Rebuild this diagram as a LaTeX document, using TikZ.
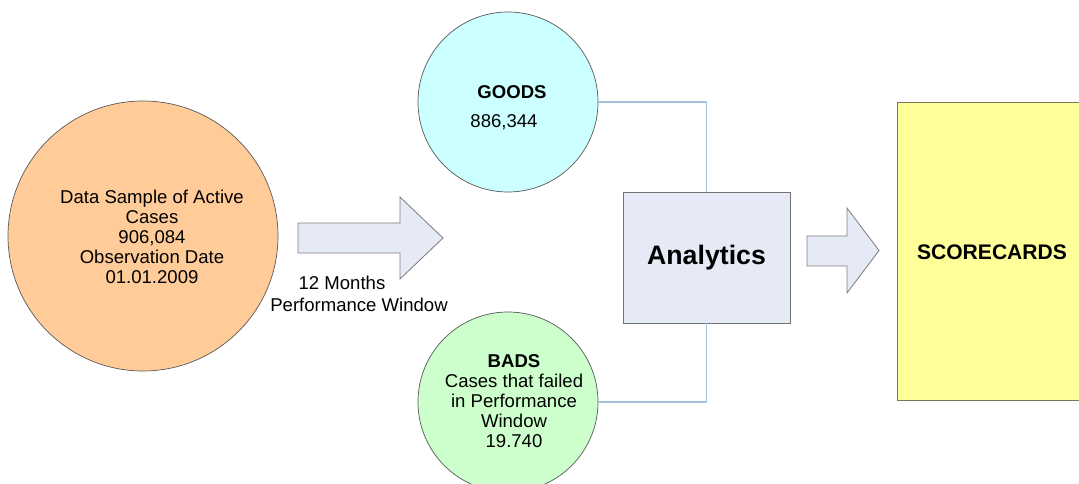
\documentclass[tikz,border=0pt]{standalone}
\usepackage{fontspec}
\setmainfont{Liberation Sans}
\usepackage{tikz}
\usetikzlibrary{positioning}

\definecolor{peach}{HTML}{FFCC99}
\definecolor{paleblue}{HTML}{CCFFFF}
\definecolor{palegreen}{HTML}{CCFFCC}
\definecolor{lavender}{HTML}{E6EAF6}
\definecolor{paleyellow}{HTML}{FFFF99}
\definecolor{linkblue}{HTML}{A7BEDD}
\definecolor{olivegray}{HTML}{77775A}

\tikzset{
  bubble/.style={circle, draw=black!65, line width=0.5pt, inner sep=0pt},
  blockarrow/.style={draw=black!50, fill=lavender, line width=0.6pt, line join=miter},
  link/.style={draw=linkblue, line width=0.8pt},
  txt/.style={font=\fontsize{13.2}{14.2}\selectfont, align=center, inner sep=0pt},
  boldtxt/.style={txt, font=\fontsize{13.2}{14.2}\selectfont\bfseries},
}

\begin{document}
\begin{tikzpicture}
\useasboundingbox (0cm,0cm) rectangle (26.975cm,-12.1cm);

\node[bubble, fill=peach, minimum size=6.75cm] (sample) at (3.575cm,-5.9cm) {};
\node[txt] (sampletext) at (3.8cm,-5.925cm) {Data Sample of Active\\Cases\\906,084\hspace*{1em}\\Observation Date\\01.01.2009};

\draw[blockarrow] (7.45cm,-5.575cm) -- (10cm,-5.575cm) -- (10cm,-4.925cm) -- (11.075cm,-5.95cm) -- (10cm,-6.975cm) -- (10cm,-6.325cm) -- (7.45cm,-6.325cm) -- cycle;
\node[txt] (months) at (8.55cm,-7.075cm) {12 Months};
\node[txt] (window) at (8.975cm,-7.625cm) {Performance Window};

\node[bubble, fill=paleblue, minimum size=4.5cm] (goods) at (12.7cm,-2.55cm) {};
\node[boldtxt] (goodstitle) at (12.8cm,-2.3cm) {GOODS};
\node[txt] (goodscount) at (12.6cm,-3.05cm) {886,344};

\node[bubble, fill=palegreen, minimum size=4.5cm] (bads) at (12.7cm,-10.05cm) {};
\node[txt] (badstext) at (12.85cm,-10.025cm) {\textbf{BADS}\\Cases that failed\\in Performance\\Window\\19.740};

\node[draw=black!55, fill=lavender, minimum width=4.175cm, minimum height=3.275cm, inner sep=0pt, font=\fontsize{19}{22}\selectfont\bfseries] (analytics) at (17.6625cm,-6.4375cm) {Analytics};

\draw[link] (goods.east) -| (analytics.north);
\draw[link] (bads.east) -| (analytics.south);

\draw[blockarrow] (20.175cm,-5.9cm) -- (21.175cm,-5.9cm) -- (21.175cm,-5.2cm) -- (21.975cm,-6.2625cm) -- (21.175cm,-7.325cm) -- (21.175cm,-6.65cm) -- (20.175cm,-6.65cm) -- cycle;

\node[draw=olivegray, fill=paleyellow, line width=0.6pt, minimum width=4.8cm, minimum height=7.45cm, inner sep=0pt, anchor=north west] (scorecards) at (22.425cm,-2.55cm) {};
\node[boldtxt, font=\fontsize{15}{17}\selectfont\bfseries] (scoretext) at (24.8cm,-6.3cm) {SCORECARDS};
\end{tikzpicture}
\end{document}
